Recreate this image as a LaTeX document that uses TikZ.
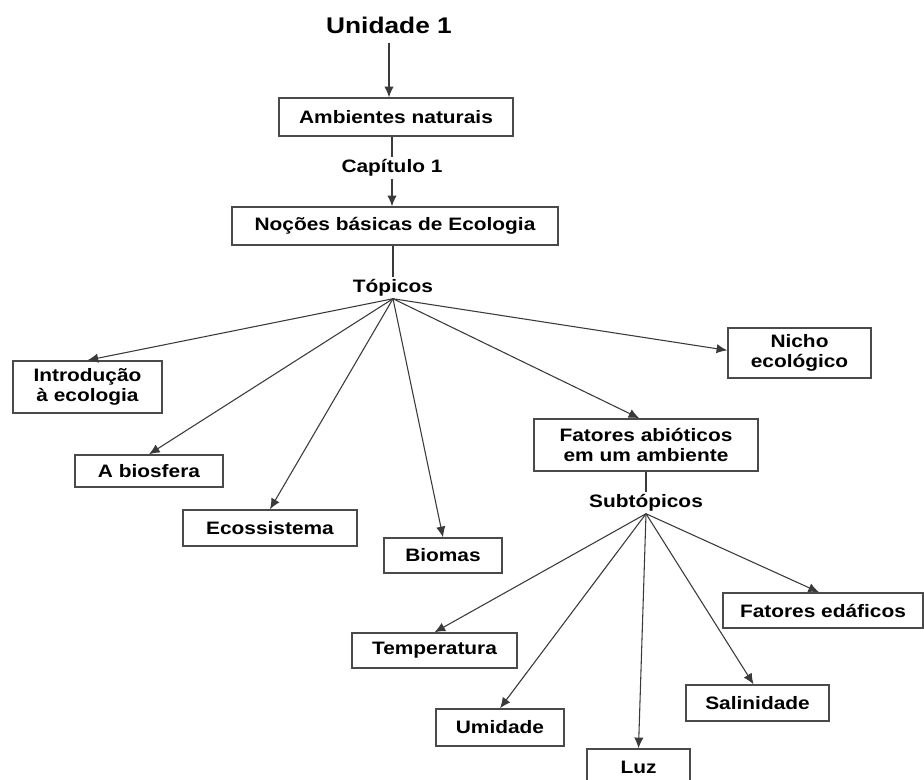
\documentclass[tikz,border=0pt]{standalone}
\usepackage{fontspec}
\setmainfont{Liberation Sans}[FakeStretch=1.16]
\usetikzlibrary{arrows.meta}
\definecolor{edgegray}{HTML}{3A3A3A}
\definecolor{framegray}{HTML}{4A4A4A}
\begin{document}
\begin{tikzpicture}[x=0.75pt,y=-0.75pt,
  nbox/.style={draw=framegray, line width=1.1pt, fill=white, inner sep=0pt,
    align=center, font=\fontsize{13.5}{14.5}\selectfont\bfseries},
  lbl/.style={inner xsep=0pt, inner ysep=1.5pt, font=\fontsize{13.5}{14.5}\selectfont\bfseries},
  conn/.style={draw=edgegray, line width=0.8pt},
  arr/.style={conn, -{Latex[length=8pt,width=7pt]}}]

\useasboundingbox (0,0) rectangle (924,780);
\clip (0,0) rectangle (924,780);
\fill[white] (0,0) rectangle (924,780);

% title and chapter chain
\node[lbl, inner ysep=7pt, font=\fontsize{17}{19}\selectfont\bfseries] (unidade) at (389,25) {Unidade 1};
\node[nbox, minimum width=175.5pt, minimum height=28.5pt] (ambientes) at (396,117) {Ambientes naturais};
\node[lbl] (capitulo) at (392,168) {Capítulo 1};
\node[nbox, minimum width=244.5pt, minimum height=28.5pt] (nocoes) at (395,226) {Noções básicas de Ecologia};
\node[lbl] (topicos) at (393,288) {Tópicos};

% topics
\node[nbox, minimum width=111.75pt, minimum height=39pt] (intro) at (87.5,387) {Introdução\\à ecologia};
\node[nbox, minimum width=111pt, minimum height=24pt] (biosfera) at (149,471) {A biosfera};
\node[nbox, minimum width=130.5pt, minimum height=27pt] (ecossistema) at (270,528) {Ecossistema};
\node[nbox, minimum width=88.5pt, minimum height=26.25pt] (biomas) at (443,555.5) {Biomas};
\node[nbox, minimum width=107.25pt, minimum height=37.5pt] (nicho) at (799.5,353) {Nicho\\ecológico};
\node[nbox, minimum width=168pt, minimum height=39pt] (abioticos) at (646,445) {Fatores abióticos\\em um ambiente};

% subtopics
\node[lbl] (subtopicos) at (646,503) {Subtópicos};
\node[nbox, minimum width=123.75pt, minimum height=26.25pt] (temperatura) at (434.5,650.5) {Temperatura};
\node[nbox, minimum width=96pt, minimum height=27.75pt] (umidade) at (500,727.5) {Umidade};
\node[nbox, minimum width=77.25pt, minimum height=27pt] (luz) at (638.5,767) {Luz};
\node[nbox, minimum width=107.25pt, minimum height=27pt] (salinidade) at (757.5,703) {Salinidade};
\node[nbox, minimum width=150pt, minimum height=26.25pt] (edaficos) at (823,610.5) {Fatores edáficos};

% vertical chain
\draw[arr] (unidade.south) -- (unidade.south |- ambientes.north);
\draw[conn] (capitulo.north |- ambientes.south) -- (capitulo.north);
\draw[arr] (capitulo.south) -- (capitulo.south |- nocoes.north);
\draw[conn] (topicos.north |- nocoes.south) -- (topicos.north);

% topic fan
\draw[arr] (topicos.south) -- (intro.north);
\draw[arr] (topicos.south) -- (biosfera.north);
\draw[arr] (topicos.south) -- (ecossistema.north);
\draw[arr] (topicos.south) -- (biomas.north);
\draw[arr] (topicos.south) -- ([yshift=2pt]nicho.west);
\draw[arr] (topicos.south) -- ([xshift=-5pt]abioticos.north);

% subtopic fan
\draw[conn] (subtopicos.north |- abioticos.south) -- (subtopicos.north);
\draw[arr] (subtopicos.south) -- (temperatura.north);
\draw[arr] (subtopicos.south) -- (umidade.north);
\draw[arr] (subtopicos.south) -- (luz.north);
\draw[arr] (subtopicos.south) -- ([xshift=-3pt]salinidade.north);
\draw[arr] (subtopicos.south) -- ([xshift=-3pt]edaficos.north);
\end{tikzpicture}
\end{document}
